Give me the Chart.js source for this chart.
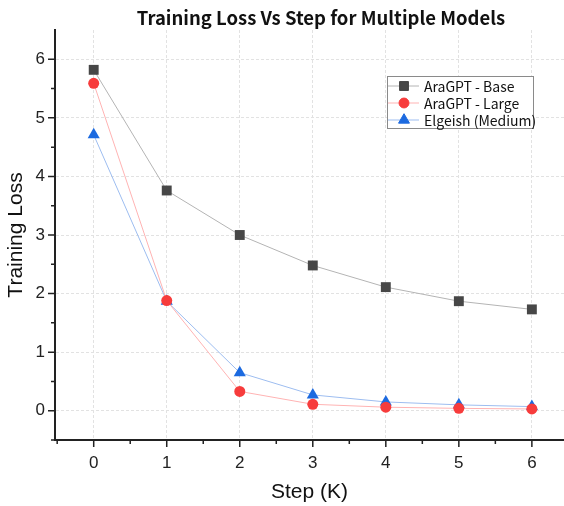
<!DOCTYPE html>
<html>
<head>
<meta charset="utf-8">
<script src="https://cdn.jsdelivr.net/npm/chart.js@4/dist/chart.umd.min.js"></script>
<style>
  html, body { margin: 0; padding: 0; background: #fff; }
  #wrap { width: 564px; height: 506px; }
</style>
</head>
<body>
<div id="wrap"><canvas id="lossChart" width="564" height="506"></canvas></div>
<script>
// dados
const steps = [0, 1, 2, 3, 4, 5, 6];
const araBase  = [5.82, 3.76, 3.00, 2.48, 2.11, 1.87, 1.73];
const araLarge = [5.59, 1.88, 0.33, 0.11, 0.06, 0.04, 0.03];
const elgeish  = [4.71, 1.87, 0.65, 0.27, 0.15, 0.10, 0.07];
const seriesNames = ['AraGPT - Base', 'AraGPT - Large', 'Elgeish (Medium)'];
const chartTitle = 'Training Loss Vs Step for Multiple Models';

const xTicks = [0, 1, 2, 3, 4, 5, 6];
const yTicks = [0, 1, 2, 3, 4, 5, 6];
const xMinor = [-0.5, 0.5, 1.5, 2.5, 3.5, 4.5, 5.5];
const yMinor = [-0.5, 0.5, 1.5, 2.5, 3.5, 4.5, 5.5];

const sansFont = "'Liberation Sans', Arial, sans-serif";
const gothicFont = "'Noto Sans CJK JP', 'Noto Sans', sans-serif";

function toPoints(values) {
    return steps.map((s, i) => ({ x: s, y: values[i] }));
}

// título desenhado à mão (fica um pouco à direita do centro, como no original)
const plotTitle = {
    id: 'plotTitle',
    afterDraw(chart) {
        const ctx = chart.ctx;
        ctx.save();
        ctx.fillStyle = '#111';
        ctx.font = 'bold 18.5px ' + gothicFont;
        ctx.textAlign = 'center';
        ctx.textBaseline = 'middle';
        ctx.fillText(chartTitle, 321, 18);
        ctx.restore();
    }
};

// marcas (ticks) dos eixos, maiores e menores
const axisTicks = {
    id: 'axisTicks',
    afterDraw(chart) {
        const ctx = chart.ctx;
        const area = chart.chartArea;
        const xs = chart.scales.x, ys = chart.scales.y;
        ctx.save();
        ctx.strokeStyle = '#222';
        ctx.lineWidth = 1.5;
        ctx.beginPath();
        xTicks.forEach(v => { const p = xs.getPixelForValue(v); ctx.moveTo(p, area.bottom); ctx.lineTo(p, area.bottom + 7); });
        xMinor.forEach(v => { const p = xs.getPixelForValue(v); ctx.moveTo(p, area.bottom); ctx.lineTo(p, area.bottom + 4); });
        yTicks.forEach(v => { const p = ys.getPixelForValue(v); ctx.moveTo(area.left, p); ctx.lineTo(area.left - 7, p); });
        yMinor.forEach(v => { const p = ys.getPixelForValue(v); ctx.moveTo(area.left, p); ctx.lineTo(area.left - 4, p); });
        ctx.stroke();
        ctx.restore();
    }
};

// legenda dentro da área do gráfico, com moldura
const boxLegend = {
    id: 'boxLegend',
    afterDraw(chart) {
        const ctx = chart.ctx;
        const bx = 387, by = 76, bw = 146, bh = 52;
        ctx.save();
        ctx.fillStyle = '#fff';
        ctx.fillRect(bx, by, bw, bh);
        ctx.strokeStyle = '#8a8a8a';
        ctx.lineWidth = 1;
        ctx.strokeRect(bx + 0.5, by + 0.5, bw, bh);
        chart.data.datasets.forEach((ds, i) => {
            const y = by + 10 + i * 17;
            ctx.strokeStyle = ds.borderColor;
            ctx.lineWidth = 1;
            ctx.beginPath();
            ctx.moveTo(bx + 1, y);
            ctx.lineTo(bx + 32, y);
            ctx.stroke();
            ctx.fillStyle = ds.pointBackgroundColor;
            ctx.strokeStyle = ds.pointBackgroundColor;
            Chart.helpers.drawPoint(ctx, {
                pointStyle: ds.pointStyle, radius: ds.pointRadius * 0.9, rotation: 0, borderWidth: 1
            }, bx + 17, y);
            ctx.fillStyle = '#111';
            ctx.font = '14px ' + gothicFont;
            ctx.textBaseline = 'middle';
            ctx.fillText(ds.label, bx + 37, y + 1);
        });
        ctx.restore();
    }
};

const ctx = document.getElementById('lossChart').getContext('2d');
const lossChart = new Chart(ctx, {
    type: 'line',
    data: {
        datasets: [
            {
                label: seriesNames[0],
                data: toPoints(araBase),
                borderColor: '#b4b4b4',
                borderWidth: 1,
                pointStyle: 'rect',
                pointRadius: 7,
                pointBackgroundColor: '#474747',
                pointBorderColor: '#474747',
                pointBorderWidth: 0
            },
            {
                label: seriesNames[1],
                data: toPoints(araLarge),
                borderColor: '#ffb3b3',
                borderWidth: 1,
                pointStyle: 'circle',
                pointRadius: 5.5,
                pointBackgroundColor: '#f73c3c',
                pointBorderColor: '#f73c3c',
                pointBorderWidth: 0
            },
            {
                label: seriesNames[2],
                data: toPoints(elgeish),
                borderColor: '#9dbdf0',
                borderWidth: 1,
                pointStyle: 'triangle',
                pointRadius: 7,
                pointBackgroundColor: '#1c6ae0',
                pointBorderColor: '#1c6ae0',
                pointBorderWidth: 0
            }
        ]
    },
    options: {
        responsive: false,
        animation: false,
        // sem autoPadding: a área do gráfico vai até a borda direita
        layout: { autoPadding: false, padding: { left: 0, right: 0, top: 30, bottom: 0 } },
        plugins: {
            legend: { display: false },
            tooltip: { enabled: false },
            title: { display: false }
        },
        scales: {
            x: {
                type: 'linear',
                min: -0.53,
                max: 6.44,
                afterBuildTicks: (scale) => { scale.ticks = xTicks.map(v => ({ value: v })); },
                afterFit: (scale) => { scale.height = 66; scale.paddingLeft = 0; scale.paddingRight = 0; },
                grid: { color: '#e2e2e2', drawTicks: false },
                border: { display: true, color: '#222', width: 2, dash: [3, 2] },
                ticks: {
                    color: '#222',
                    padding: 13,
                    font: { family: sansFont, size: 17 }
                },
                title: {
                    display: true,
                    text: 'Step (K)',
                    color: '#111',
                    font: { family: sansFont, size: 21 },
                    padding: { top: 0, bottom: 1.5 }
                }
            },
            y: {
                type: 'linear',
                min: -0.5,
                max: 6.5,
                afterBuildTicks: (scale) => { scale.ticks = yTicks.map(v => ({ value: v })); },
                afterFit: (scale) => { scale.width = 55; scale.paddingTop = 0; scale.paddingBottom = 0; },
                grid: { color: '#e2e2e2', drawTicks: false },
                border: { display: true, color: '#222', width: 2, dash: [3, 2] },
                ticks: {
                    color: '#222',
                    padding: 10,
                    font: { family: sansFont, size: 17 }
                },
                title: {
                    display: true,
                    text: 'Training Loss',
                    color: '#111',
                    font: { family: sansFont, size: 21 },
                    padding: { top: 4, bottom: 0 }
                }
            }
        }
    },
    plugins: [axisTicks, boxLegend, plotTitle]
});
</script>
</body>
</html>
